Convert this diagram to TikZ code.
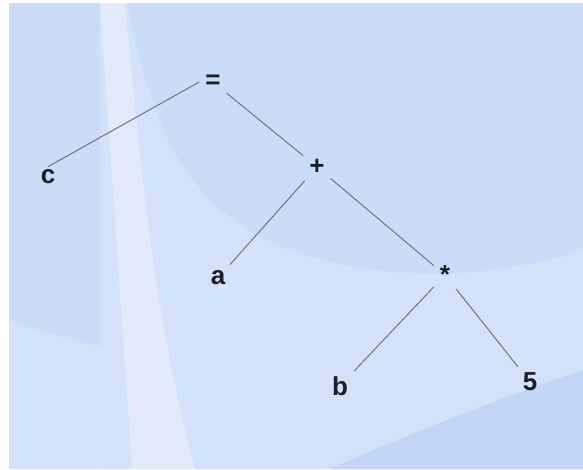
\documentclass[tikz,border=0pt]{standalone}
\usepackage{fontspec}
\setmainfont{Liberation Sans}
\definecolor{fondo}{RGB}{203,220,248}
\definecolor{fondoclaro}{RGB}{212,226,249}
\definecolor{fondobrillo}{RGB}{225,235,251}
\definecolor{fondooscuro}{RGB}{194,213,246}
\definecolor{rama}{RGB}{110,116,126}
\definecolor{texto}{RGB}{28,30,38}
\usetikzlibrary{positioning}

\begin{document}
\begin{tikzpicture}[x=1pt,y=-1pt,
  every node/.style={font=\fontsize{26}{30}\selectfont\bfseries,text=texto,inner sep=6pt},
  hoja/.style={},
  rama/.style={draw=rama,line width=1pt}]

\useasboundingbox (0,0) rectangle (583,469);

% Fondo
\fill[white] (0,0) rectangle (583,469);
\fill[fondo] (9,3) rectangle (583,469);
\fill[fondoclaro] (100,3) -- (128,3) .. controls (150,130) and (190,230) .. (330,262)
  .. controls (430,285) and (520,270) .. (583,250) -- (583,469) -- (100,469) -- cycle;
\fill[fondoclaro] (9,320) .. controls (50,335) and (90,345) .. (126,352) -- (134,469) -- (9,469) -- cycle;
\fill[fondobrillo] (100,3) -- (125,3) .. controls (140,150) and (150,300) .. (195,469) -- (132,469) -- cycle;
\fill[fondooscuro] (330,469) .. controls (430,425) and (510,395) .. (583,370) -- (583,469) -- cycle;

% Nodos del arbol
\node (eq) at (213,82) {=};
\node[hoja] (c) at (48,177) {c};
\node (plus) at (317,167) {+};
\node[hoja] (a) at (218,278) {a};
\node (mul) at (445,275) {*};
\node[hoja] (b) at (340,386) {b};
\node[hoja] (five) at (530,382) {5};

% Ramas
\draw[rama] ([yshift=-3pt]c.north) -- (eq.west);
\draw[rama] (eq) -- (plus);
\draw[rama] (plus) -- (a);
\draw[rama] (plus) -- (mul);
\draw[rama] (mul) -- (b);
\draw[rama] (mul) -- (five);

\end{tikzpicture}
\end{document}
